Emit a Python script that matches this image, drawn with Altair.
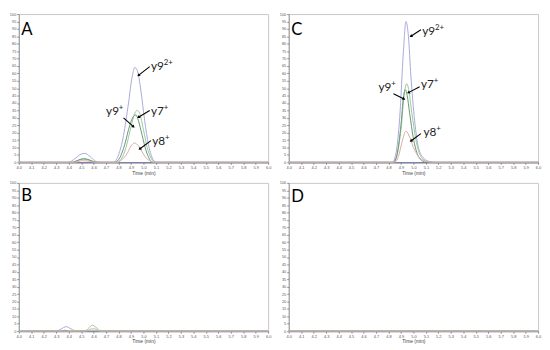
import math
import altair as alt
import pandas as pd

SERIES = ["y9²⁺", "y7⁺", "y9⁺", "y8⁺"]
BASE = ["y9", "y7", "y9", "y8"]
SUP = ["2+", "+", "+", "+"]
COLORS = ["#a8a8dc", "#98c898", "#6a9476", "#dcaaaa"]
PANELS = ["A", "B", "C", "D"]

# ---------- Panel A ----------
A_y92_t = [4.0, 4.40, 4.45, 4.50, 4.53, 4.57, 4.62, 4.66, 4.76, 4.80, 4.84, 4.88, 4.91, 4.93, 4.95, 4.98, 5.01, 5.04, 5.07, 5.10, 6.0]
A_y92_v = [0, 0, 2.5, 5.5, 6, 4, 0.5, 0, 0, 5, 18, 40, 58, 64, 62, 48, 28, 12, 3, 0, 0]
A_y7_t = [4.0, 4.42, 4.48, 4.52, 4.58, 4.63, 4.78, 4.82, 4.86, 4.90, 4.93, 4.95, 4.97, 5.00, 5.03, 5.06, 5.10, 6.0]
A_y7_v = [0, 0, 1.5, 2, 1, 0, 0, 2, 10, 24, 33, 35, 33, 22, 10, 3, 0, 0]
A_y9_t = [4.0, 4.43, 4.48, 4.52, 4.57, 4.62, 4.77, 4.81, 4.85, 4.89, 4.92, 4.94, 4.96, 4.99, 5.02, 5.05, 5.08, 6.0]
A_y9_v = [0, 0, 1.5, 2.5, 1.5, 0, 0, 3, 12, 25, 31, 32, 28, 18, 8, 2, 0, 0]
A_y8_t = [4.0, 4.45, 4.50, 4.53, 4.58, 4.62, 4.79, 4.83, 4.87, 4.90, 4.93, 4.96, 4.99, 5.02, 5.05, 5.08, 6.0]
A_y8_v = [0, 0, 1, 1, 0.5, 0, 0, 2, 6, 11, 13, 11, 7, 3, 1, 0, 0]

# ---------- Panel B ----------
B_y92_t = [4.0, 4.30, 4.34, 4.38, 4.42, 4.46, 6.0]
B_y92_v = [0, 0, 1.5, 3, 1.5, 0, 0]
B_y7_t = [4.0, 4.53, 4.56, 4.59, 4.62, 4.66, 6.0]
B_y7_v = [0, 0, 2, 4, 2.5, 0, 0]
B_y9_t = [4.0, 4.33, 4.37, 4.41, 6.0]
B_y9_v = [0, 0, 0.6, 0, 0]
B_y8_t = [4.0, 4.54, 4.58, 4.61, 4.65, 6.0]
B_y8_v = [0, 0, 1.5, 1.5, 0, 0]

# ---------- Panel C ----------
C_y92_t = [4.0, 4.83, 4.86, 4.89, 4.92, 4.94, 4.96, 4.98, 5.01, 5.04, 5.08, 5.13, 5.18, 6.0]
C_y92_v = [0, 0, 6, 30, 75, 95, 85, 58, 28, 10, 3, 0.5, 0, 0]
C_y7_t = [4.0, 4.84, 4.87, 4.90, 4.93, 4.945, 4.96, 4.98, 5.01, 5.04, 5.08, 5.12, 6.0]
C_y7_v = [0, 0, 5, 22, 48, 53, 50, 38, 20, 8, 2, 0, 0]
C_y9_t = [4.0, 4.84, 4.87, 4.90, 4.92, 4.935, 4.95, 4.97, 5.00, 5.03, 5.07, 5.10, 6.0]
C_y9_v = [0, 0, 6, 25, 44, 49, 45, 33, 16, 6, 1, 0, 0]
C_y8_t = [4.0, 4.85, 4.88, 4.91, 4.94, 4.97, 5.00, 5.04, 5.09, 5.15, 6.0]
C_y8_v = [0, 0, 4, 14, 21, 17, 10, 4, 1, 0, 0]

# ---------- Panel D ----------
D_y92_t = [4.0, 6.0]
D_y92_v = [0, 0]
D_y7_t = [4.0, 6.0]
D_y7_v = [0, 0]
D_y9_t = [4.0, 6.0]
D_y9_v = [0, 0]
D_y8_t = [4.0, 6.0]
D_y8_v = [0, 0]

# ---------- annotations (data coordinates, left edge of label) ----------
A_lab_x = [5.06, 5.06, 4.70, 5.07]
A_lab_y = [62, 32, 32, 12]
A_arr_x1 = [5.05, 5.05, 4.84, 5.06]
A_arr_y1 = [64.5, 35, 30, 14.6]
A_arr_x2 = [4.96, 4.96, 4.92, 4.97]
A_arr_y2 = [58.6, 30.4, 24, 9]

C_lab_x = [5.07, 5.06, 4.72, 5.08]
C_lab_y = [86, 50, 48, 17.5]
C_arr_x1 = [5.06, 5.05, 4.84, 5.06]
C_arr_y1 = [89.4, 51, 46.3, 19.3]
C_arr_x2 = [4.98, 4.96, 4.925, 4.98]
C_arr_y2 = [85, 47, 42.7, 14.4]

LETTER_X = 4.02
LETTER_Y = [86, 88, 86, 87]

X_TICKS = [round(4.0 + i * 0.1, 1) for i in range(21)]
Y_TICKS = list(range(0, 101, 5))

W, H = 254, 151

curves = {
    "A": [(A_y92_t, A_y92_v), (A_y7_t, A_y7_v), (A_y9_t, A_y9_v), (A_y8_t, A_y8_v)],
    "B": [(B_y92_t, B_y92_v), (B_y7_t, B_y7_v), (B_y9_t, B_y9_v), (B_y8_t, B_y8_v)],
    "C": [(C_y92_t, C_y92_v), (C_y7_t, C_y7_v), (C_y9_t, C_y9_v), (C_y8_t, C_y8_v)],
    "D": [(D_y92_t, D_y92_v), (D_y7_t, D_y7_v), (D_y9_t, D_y9_v), (D_y8_t, D_y8_v)],
}
annots = {
    "A": (A_lab_x, A_lab_y, A_arr_x1, A_arr_y1, A_arr_x2, A_arr_y2),
    "C": (C_lab_x, C_lab_y, C_arr_x1, C_arr_y1, C_arr_x2, C_arr_y2),
}

xscale = alt.Scale(domain=[4.0, 6.0], nice=False, zero=False)
yscale = alt.Scale(domain=[0, 100], nice=False, zero=False)
xaxis = alt.Axis(values=X_TICKS, format=".1f", labelFontSize=4, labelColor="#555",
                 labelFlush=False, labelOverlap=False, labelBound=False, tickSize=2,
                 tickColor="#888", domainColor="#8080a8", domainWidth=1.5,
                 title="Time (min)", titleFontSize=5, titleFontWeight="normal",
                 titleColor="#444", titlePadding=1, labelPadding=1, grid=False)
yaxis = alt.Axis(values=Y_TICKS, labelFontSize=4, labelColor="#555", labelOverlap=False,
                 labelBound=False, tickSize=2, tickColor="#888", domainColor="#999",
                 title=None, labelPadding=1, grid=False)


def X(field):
    return alt.X(field, type="quantitative", scale=xscale, axis=xaxis)


def Y(field):
    return alt.Y(field, type="quantitative", scale=yscale, axis=yaxis)


color = alt.Color("series:N", scale=alt.Scale(domain=SERIES, range=COLORS), legend=None)


def panel(pid, idx):
    rows = []
    for s, (t, v) in zip(SERIES, curves[pid]):
        for ti, vi in zip(t, v):
            rows.append({"series": s, "time": ti, "value": vi})
    df = pd.DataFrame(rows)
    lines = alt.Chart(df).mark_line(strokeWidth=1, interpolate="monotone").encode(
        x=X("time"), y=Y("value"), color=color, order=alt.Order("time:Q"),
    )
    letter = alt.Chart(pd.DataFrame({"time": [LETTER_X], "value": [LETTER_Y[idx]], "t": [pid]})).mark_text(
        font="Lato", fontSize=17, align="left", baseline="alphabetic", color="black"
    ).encode(x=X("time"), y=Y("value"), text="t:N")
    layers = [lines, letter]
    if pid in annots:
        lx, ly, x1, y1, x2, y2 = annots[pid]
        angles = []
        for a, b, c, d in zip(x1, y1, x2, y2):
            dx = (c - a) * W / 2.0
            dy = -(d - b) * H / 100.0
            angles.append(math.degrees(math.atan2(dx, -dy)) % 360)
        adf = pd.DataFrame({"time": x1, "value": y1, "x2": x2, "y2": y2, "ang": angles})
        rule = alt.Chart(adf).mark_rule(color="black", strokeWidth=1.1).encode(
            x=X("time"), y=Y("value"), x2="x2:Q", y2="y2:Q")
        hdf = pd.DataFrame({"time": x2, "value": y2, "ang": angles})
        head = alt.Chart(hdf).mark_point(shape="triangle-up", filled=True, color="black",
                                         size=12, opacity=1).encode(
            x=X("time"), y=Y("value"), angle=alt.Angle("ang:Q", scale=None))
        tdf = pd.DataFrame({"base": BASE, "sup": SUP, "time": lx, "value": ly})
        base = alt.Chart(tdf).mark_text(
            font="Lato", fontSize=12, align="left", baseline="alphabetic", color="#222"
        ).encode(x=X("time"), y=Y("value"), text="base:N")
        sup = alt.Chart(tdf).mark_text(
            font="Lato", fontSize=8, align="left", baseline="alphabetic", color="#222",
            dx=13, dy=-5
        ).encode(x=X("time"), y=Y("value"), text="sup:N")
        layers += [rule, head, base, sup]
    return alt.layer(*layers).properties(width=W, height=H)


top = alt.hconcat(panel("A", 0), panel("C", 2), spacing=6)
bottom = alt.hconcat(panel("B", 1), panel("D", 3), spacing=6)
chart = alt.vconcat(top, bottom, spacing=4).properties(
    padding=0, background="white"
).configure_view(stroke="#c8c8c8", strokeWidth=1).configure_axis(labelOverlap=False)

chart.save("out.html", embed_options={"renderer": "svg", "actions": False})
